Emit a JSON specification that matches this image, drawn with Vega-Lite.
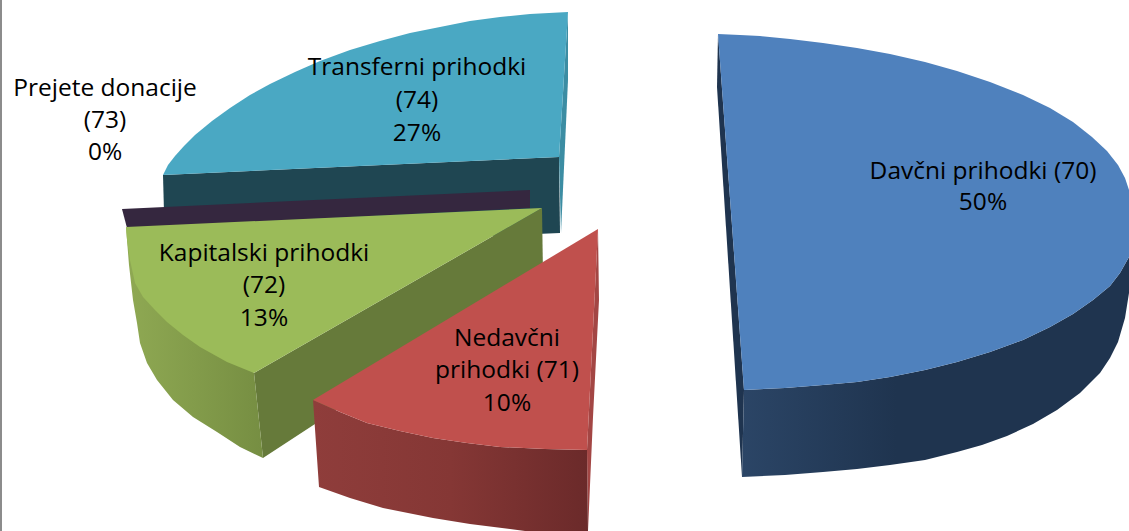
{"$schema":"https://vega.github.io/schema/vega-lite/v6.json","width":1129,"height":531,"autosize":{"type":"fit","contains":"padding"},"padding":0,"background":"white","view":{"stroke":null},
"datasets":{"outline":[
{"face":"border","i":0,"x":0,"y":0},{"face":"border","i":1,"x":2,"y":0},{"face":"border","i":2,"x":2,"y":531},{"face":"border","i":3,"x":0,"y":531},
{"face":"tealFront","i":0,"x":163,"y":175},{"face":"tealFront","i":1,"x":559,"y":157},{"face":"tealFront","i":2,"x":560,"y":233},{"face":"tealFront","i":3,"x":165,"y":250},
{"face":"tealEdge","i":0,"x":568,"y":12},{"face":"tealEdge","i":1,"x":568,"y":80},{"face":"tealEdge","i":2,"x":561,"y":233},{"face":"tealEdge","i":3,"x":559,"y":157},
{"face":"tealTop","i":0,"x":568,"y":12},{"face":"tealTop","i":1,"x":530,"y":14},{"face":"tealTop","i":2,"x":500,"y":17},{"face":"tealTop","i":3,"x":470,"y":21},{"face":"tealTop","i":4,"x":440,"y":27},{"face":"tealTop","i":5,"x":410,"y":33},{"face":"tealTop","i":6,"x":380,"y":41},{"face":"tealTop","i":7,"x":350,"y":50},{"face":"tealTop","i":8,"x":320,"y":61},{"face":"tealTop","i":9,"x":295,"y":72},{"face":"tealTop","i":10,"x":270,"y":84},{"face":"tealTop","i":11,"x":250,"y":95},{"face":"tealTop","i":12,"x":230,"y":108},{"face":"tealTop","i":13,"x":212,"y":121},{"face":"tealTop","i":14,"x":195,"y":135},{"face":"tealTop","i":15,"x":184,"y":146},{"face":"tealTop","i":16,"x":175,"y":156},{"face":"tealTop","i":17,"x":168,"y":165},{"face":"tealTop","i":18,"x":163,"y":175},{"face":"tealTop","i":19,"x":559,"y":157},
{"face":"purple","i":0,"x":122,"y":209},{"face":"purple","i":1,"x":530,"y":190},{"face":"purple","i":2,"x":530,"y":208},{"face":"purple","i":3,"x":127,"y":228},
{"face":"greenInner","i":0,"x":542,"y":208},{"face":"greenInner","i":1,"x":543,"y":275},{"face":"greenInner","i":2,"x":263,"y":458},{"face":"greenInner","i":3,"x":254,"y":373},
{"face":"greenFront","i":0,"x":126,"y":227},{"face":"greenFront","i":1,"x":254,"y":373},{"face":"greenFront","i":2,"x":263,"y":458},{"face":"greenFront","i":3,"x":240,"y":447},{"face":"greenFront","i":4,"x":217,"y":432},{"face":"greenFront","i":5,"x":193,"y":417},{"face":"greenFront","i":6,"x":173,"y":400},{"face":"greenFront","i":7,"x":157,"y":380},{"face":"greenFront","i":8,"x":147,"y":363},{"face":"greenFront","i":9,"x":140,"y":343},{"face":"greenFront","i":10,"x":137,"y":323},{"face":"greenFront","i":11,"x":133,"y":300},{"face":"greenFront","i":12,"x":129,"y":265},
{"face":"greenTop","i":0,"x":126,"y":227},{"face":"greenTop","i":1,"x":542,"y":208},{"face":"greenTop","i":2,"x":254,"y":373},{"face":"greenTop","i":3,"x":227,"y":362},{"face":"greenTop","i":4,"x":200,"y":347},{"face":"greenTop","i":5,"x":183,"y":335},{"face":"greenTop","i":6,"x":167,"y":322},{"face":"greenTop","i":7,"x":155,"y":310},{"face":"greenTop","i":8,"x":143,"y":297},{"face":"greenTop","i":9,"x":135,"y":283},{"face":"greenTop","i":10,"x":130,"y":260},{"face":"greenTop","i":11,"x":127,"y":240},
{"face":"redEdge","i":0,"x":598,"y":229},{"face":"redEdge","i":1,"x":599,"y":300},{"face":"redEdge","i":2,"x":593,"y":417},{"face":"redEdge","i":3,"x":588,"y":531},{"face":"redEdge","i":4,"x":587,"y":450},
{"face":"redFront","i":0,"x":313,"y":400},{"face":"redFront","i":1,"x":340,"y":412},{"face":"redFront","i":2,"x":367,"y":423},{"face":"redFront","i":3,"x":400,"y":431},{"face":"redFront","i":4,"x":433,"y":438},{"face":"redFront","i":5,"x":467,"y":443},{"face":"redFront","i":6,"x":500,"y":447},{"face":"redFront","i":7,"x":545,"y":449},{"face":"redFront","i":8,"x":587,"y":450},{"face":"redFront","i":9,"x":588,"y":531},{"face":"redFront","i":10,"x":525,"y":531},{"face":"redFront","i":11,"x":510,"y":529},{"face":"redFront","i":12,"x":470,"y":524},{"face":"redFront","i":13,"x":433,"y":518},{"face":"redFront","i":14,"x":383,"y":508},{"face":"redFront","i":15,"x":350,"y":498},{"face":"redFront","i":16,"x":319,"y":487},
{"face":"redTop","i":0,"x":598,"y":229},{"face":"redTop","i":1,"x":313,"y":400},{"face":"redTop","i":2,"x":340,"y":412},{"face":"redTop","i":3,"x":367,"y":423},{"face":"redTop","i":4,"x":400,"y":431},{"face":"redTop","i":5,"x":433,"y":438},{"face":"redTop","i":6,"x":467,"y":443},{"face":"redTop","i":7,"x":500,"y":447},{"face":"redTop","i":8,"x":545,"y":449},{"face":"redTop","i":9,"x":587,"y":450},
{"face":"blueEdge","i":0,"x":718,"y":34},{"face":"blueEdge","i":1,"x":717,"y":87},{"face":"blueEdge","i":2,"x":742,"y":477},{"face":"blueEdge","i":3,"x":744,"y":390},
{"face":"blueFront","i":0,"x":744,"y":390},{"face":"blueFront","i":1,"x":785,"y":388},{"face":"blueFront","i":2,"x":823,"y":385},{"face":"blueFront","i":3,"x":857,"y":382},{"face":"blueFront","i":4,"x":890,"y":377},{"face":"blueFront","i":5,"x":925,"y":370},{"face":"blueFront","i":6,"x":957,"y":362},{"face":"blueFront","i":7,"x":990,"y":352},{"face":"blueFront","i":8,"x":1023,"y":340},{"face":"blueFront","i":9,"x":1050,"y":327},{"face":"blueFront","i":10,"x":1073,"y":314},{"face":"blueFront","i":11,"x":1093,"y":300},{"face":"blueFront","i":12,"x":1110,"y":286},{"face":"blueFront","i":13,"x":1120,"y":273},{"face":"blueFront","i":14,"x":1129,"y":257},{"face":"blueFront","i":15,"x":1129,"y":293},{"face":"blueFront","i":16,"x":1125,"y":318},{"face":"blueFront","i":17,"x":1118,"y":342},{"face":"blueFront","i":18,"x":1110,"y":358},{"face":"blueFront","i":19,"x":1100,"y":373},{"face":"blueFront","i":20,"x":1080,"y":393},{"face":"blueFront","i":21,"x":1057,"y":410},{"face":"blueFront","i":22,"x":1033,"y":424},{"face":"blueFront","i":23,"x":1007,"y":436},{"face":"blueFront","i":24,"x":982,"y":445},{"face":"blueFront","i":25,"x":957,"y":452},{"face":"blueFront","i":26,"x":925,"y":460},{"face":"blueFront","i":27,"x":890,"y":465},{"face":"blueFront","i":28,"x":857,"y":469},{"face":"blueFront","i":29,"x":823,"y":472},{"face":"blueFront","i":30,"x":785,"y":475},{"face":"blueFront","i":31,"x":742,"y":477},
{"face":"blueTop","i":0,"x":718,"y":34},{"face":"blueTop","i":1,"x":740,"y":35},{"face":"blueTop","i":2,"x":760,"y":36},{"face":"blueTop","i":3,"x":790,"y":39},{"face":"blueTop","i":4,"x":823,"y":43},{"face":"blueTop","i":5,"x":857,"y":48},{"face":"blueTop","i":6,"x":890,"y":54},{"face":"blueTop","i":7,"x":925,"y":62},{"face":"blueTop","i":8,"x":957,"y":71},{"face":"blueTop","i":9,"x":990,"y":82},{"face":"blueTop","i":10,"x":1023,"y":95},{"face":"blueTop","i":11,"x":1050,"y":108},{"face":"blueTop","i":12,"x":1073,"y":122},{"face":"blueTop","i":13,"x":1092,"y":137},{"face":"blueTop","i":14,"x":1107,"y":151},{"face":"blueTop","i":15,"x":1118,"y":165},{"face":"blueTop","i":16,"x":1125,"y":178},{"face":"blueTop","i":17,"x":1129,"y":190},{"face":"blueTop","i":18,"x":1129,"y":257},{"face":"blueTop","i":19,"x":1120,"y":273},{"face":"blueTop","i":20,"x":1110,"y":286},{"face":"blueTop","i":21,"x":1093,"y":300},{"face":"blueTop","i":22,"x":1073,"y":314},{"face":"blueTop","i":23,"x":1050,"y":327},{"face":"blueTop","i":24,"x":1023,"y":340},{"face":"blueTop","i":25,"x":990,"y":352},{"face":"blueTop","i":26,"x":957,"y":362},{"face":"blueTop","i":27,"x":925,"y":370},{"face":"blueTop","i":28,"x":890,"y":377},{"face":"blueTop","i":29,"x":857,"y":382},{"face":"blueTop","i":30,"x":823,"y":385},{"face":"blueTop","i":31,"x":785,"y":388},{"face":"blueTop","i":32,"x":744,"y":390}
],
"labels":[
{"slice":"Davčni prihodki (70)","share":50,"text":"Davčni prihodki (70)","x":983,"y":179},{"slice":"Davčni prihodki (70)","share":50,"text":"50%","x":983,"y":210},
{"slice":"Nedavčni prihodki (71)","share":10,"text":"Nedavčni","x":507,"y":346},{"slice":"Nedavčni prihodki (71)","share":10,"text":"prihodki (71)","x":507,"y":378},{"slice":"Nedavčni prihodki (71)","share":10,"text":"10%","x":507,"y":411},
{"slice":"Kapitalski prihodki (72)","share":13,"text":"Kapitalski prihodki","x":264,"y":261},{"slice":"Kapitalski prihodki (72)","share":13,"text":"(72)","x":264,"y":293},{"slice":"Kapitalski prihodki (72)","share":13,"text":"13%","x":264,"y":326},
{"slice":"Prejete donacije (73)","share":0,"text":"Prejete donacije","x":105,"y":96},{"slice":"Prejete donacije (73)","share":0,"text":"(73)","x":105,"y":128},{"slice":"Prejete donacije (73)","share":0,"text":"0%","x":105,"y":160},
{"slice":"Transferni prihodki (74)","share":27,"text":"Transferni prihodki","x":417,"y":75},{"slice":"Transferni prihodki (74)","share":27,"text":"(74)","x":417,"y":108},{"slice":"Transferni prihodki (74)","share":27,"text":"27%","x":417,"y":141}
]},
"encoding":{"x":{"field":"x","type":"quantitative","scale":{"domain":[0,1129],"nice":false,"zero":false},"axis":null},"y":{"field":"y","type":"quantitative","scale":{"domain":[531,0],"nice":false,"zero":false},"axis":null},"order":{"field":"i","type":"quantitative"}},
"layer":[
{"data":{"name":"outline"},"transform":[{"filter":"datum.face==='border'"}],"mark":{"type":"line","fill":"#8c8c8c","stroke":null}},
{"data":{"name":"outline"},"transform":[{"filter":"datum.face==='tealFront'"}],"mark":{"type":"line","fill":"#1f4652","stroke":null}},
{"data":{"name":"outline"},"transform":[{"filter":"datum.face==='tealEdge'"}],"mark":{"type":"line","fill":"#3c8da3","stroke":null}},
{"data":{"name":"outline"},"transform":[{"filter":"datum.face==='tealTop'"}],"mark":{"type":"line","fill":"#4aa8c3","stroke":null}},
{"data":{"name":"outline"},"transform":[{"filter":"datum.face==='purple'"}],"mark":{"type":"line","fill":"#35273f","stroke":null}},
{"data":{"name":"outline"},"transform":[{"filter":"datum.face==='greenInner'"}],"mark":{"type":"line","fill":"#667a3a","stroke":null}},
{"data":{"name":"outline"},"transform":[{"filter":"datum.face==='greenFront'"}],"mark":{"type":"line","stroke":null,"fill":{"gradient":"linear","x1":0,"y1":0,"x2":1,"y2":0,"stops":[{"offset":0,"color":"#8fa953"},{"offset":1,"color":"#768e42"}]}}},
{"data":{"name":"outline"},"transform":[{"filter":"datum.face==='greenTop'"}],"mark":{"type":"line","fill":"#9bbb59","stroke":null}},
{"data":{"name":"outline"},"transform":[{"filter":"datum.face==='redEdge'"}],"mark":{"type":"line","fill":"#a34644","stroke":null}},
{"data":{"name":"outline"},"transform":[{"filter":"datum.face==='redFront'"}],"mark":{"type":"line","stroke":null,"fill":{"gradient":"linear","x1":0,"y1":0,"x2":1,"y2":0,"stops":[{"offset":0,"color":"#8f3d3b"},{"offset":0.5,"color":"#853735"},{"offset":1,"color":"#6b2a2a"}]}}},
{"data":{"name":"outline"},"transform":[{"filter":"datum.face==='redTop'"}],"mark":{"type":"line","fill":"#c0504d","stroke":null}},
{"data":{"name":"outline"},"transform":[{"filter":"datum.face==='blueEdge'"}],"mark":{"type":"line","fill":"#1f344f","stroke":null}},
{"data":{"name":"outline"},"transform":[{"filter":"datum.face==='blueFront'"}],"mark":{"type":"line","stroke":null,"fill":{"gradient":"linear","x1":0,"y1":0,"x2":1,"y2":0,"stops":[{"offset":0,"color":"#2b4566"},{"offset":0.4,"color":"#1f344f"},{"offset":1,"color":"#1f344f"}]}}},
{"data":{"name":"outline"},"transform":[{"filter":"datum.face==='blueTop'"}],"mark":{"type":"line","fill":"#4f81bd","stroke":null}},
{"data":{"name":"labels"},"mark":{"type":"text","font":"Open Sans","fontSize":24.5,"align":"center","baseline":"alphabetic","color":"#000000"},"encoding":{"text":{"field":"text"},"order":null}}
]}
